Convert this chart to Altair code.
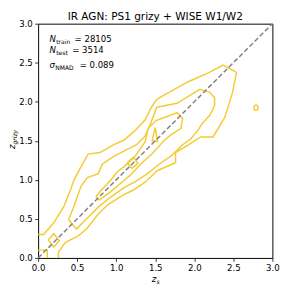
import altair as alt
import pandas as pd

GOLD = "#f5cb33"

# contour paths (z_s, z_grizy)
c1_x = [0.0, 0.07, 0.2, 0.33, 0.41, 0.46, 0.55, 0.64, 0.79, 0.97, 1.1, 1.24, 1.37, 1.45, 1.52, 1.64, 1.93, 2.18, 2.37, 2.54, 2.49, 2.39, 2.24, 2.08, 1.93, 1.76, 1.76, 1.53, 1.37, 1.22, 1.08, 0.89, 0.76, 0.62, 0.51, 0.35, 0.26, 0.26]
c1_y = [0.30, 0.30, 0.45, 0.66, 0.86, 1.0, 1.17, 1.33, 1.35, 1.45, 1.51, 1.63, 1.77, 1.93, 2.03, 2.10, 2.26, 2.37, 2.47, 2.375, 2.12, 1.80, 1.55, 1.55, 1.45, 1.35, 1.22, 1.12, 0.97, 0.87, 0.80, 0.68, 0.55, 0.37, 0.28, 0.20, 0.075, 0.0]

c2_x = [0.39, 0.45, 0.50, 0.55, 0.63, 0.77, 0.82, 0.97, 1.14, 1.26, 1.37, 1.44, 1.52, 1.78, 2.07, 2.2, 2.26, 2.26, 2.2, 2.1, 2.05, 1.95, 1.85, 1.72, 1.55, 1.4, 1.25, 1.1, 0.93, 0.78, 0.64, 0.49, 0.39]
c2_y = [0.49, 0.64, 0.78, 0.92, 1.03, 1.08, 1.2, 1.3, 1.39, 1.45, 1.56, 1.72, 1.93, 1.98, 2.16, 2.12, 2.05, 1.95, 1.83, 1.72, 1.64, 1.52, 1.45, 1.32, 1.2, 1.08, 0.98, 0.9, 0.78, 0.66, 0.52, 0.37, 0.49]

c3_x = [0.74, 0.80, 0.87, 0.95, 1.01, 1.1, 1.24, 1.37, 1.41, 1.51, 1.78, 1.85, 1.83, 1.7, 1.62, 1.52, 1.45, 1.33, 1.18, 1.05, 0.93, 0.78, 0.74]
c3_y = [0.78, 0.86, 0.93, 1.02, 1.1, 1.17, 1.30, 1.49, 1.66, 1.76, 1.86, 1.79, 1.66, 1.575, 1.51, 1.40, 1.325, 1.22, 1.06, 0.95, 0.85, 0.74, 0.78]

c4_x = [1.14, 1.22, 1.28, 1.2, 1.14]
c4_y = [1.22, 1.29, 1.21, 1.15, 1.22]

c5_x = [1.50, 1.46, 1.53, 1.50]
c5_y = [1.67, 1.50, 1.49, 1.67]

c6_x = [0.13, 0.2, 0.27, 0.2, 0.13]
c6_y = [0.23, 0.31, 0.22, 0.14, 0.23]

c7_x = [0.0, 0.117, 0.117]
c7_y = [0.10, 0.10, 0.0]

c8_x = [2.76, 2.77, 2.79, 2.81, 2.82, 2.81, 2.79, 2.77, 2.76]
c8_y = [1.925, 1.95, 1.96, 1.95, 1.925, 1.90, 1.89, 1.90, 1.925]

diag_x = [0.0, 3.0]
diag_y = [0.0, 3.0]

ticks = [0.0, 0.5, 1.0, 1.5, 2.0, 2.5, 3.0]

title = "IR AGN: PS1 grizy + WISE W1/W2"
n_train = "28105"
n_test = "3514"
sigma = "0.089"

paths = [(c1_x, c1_y), (c2_x, c2_y), (c3_x, c3_y), (c4_x, c4_y),
         (c5_x, c5_y), (c6_x, c6_y), (c7_x, c7_y), (c8_x, c8_y)]
rows = []
for cid, (xs, ys) in enumerate(paths):
    for i, (a, b) in enumerate(zip(xs, ys)):
        rows.append({"cid": cid, "order": i, "zs": a, "zp": b})
df = pd.DataFrame(rows)
ddf = pd.DataFrame({"zs": diag_x, "zp": diag_y})

FONT = "DejaVu Sans"
xs = alt.Scale(domain=[0, 3], nice=False, zero=False)
ys = alt.Scale(domain=[0, 3], nice=False, zero=False)
xax = alt.Axis(values=ticks, format=".1f", title=None, grid=False, domain=False,
               tickSize=3.5, tickColor="black", tickWidth=0.8, labelFontSize=8.8,
               labelFont=FONT, labelColor="black", labelPadding=2.5,
               labelFlush=False, labelOverlap=False)
yax = alt.Axis(values=ticks, format=".1f", title=None, grid=False, domain=False,
               tickSize=3.5, tickColor="black", tickWidth=0.8, labelFontSize=8.8,
               labelFont=FONT, labelColor="black", labelPadding=2.5,
               labelFlush=False, labelOverlap=False)

contours = alt.Chart(df).mark_line(color=GOLD, strokeWidth=1.5).encode(
    x=alt.X("zs:Q", scale=xs, axis=xax),
    y=alt.Y("zp:Q", scale=ys, axis=yax),
    detail="cid:N",
    order="order:Q",
)

diag = alt.Chart(ddf).mark_line(color="#808080", strokeWidth=1.5, strokeDash=[5, 2.5]).encode(
    x=alt.X("zs:Q", scale=xs), y=alt.Y("zp:Q", scale=ys)
)


def txt(s, x, y, size, italic=False, align="left", angle=0):
    return alt.Chart(alt.Data(values=[{}])).mark_text(
        text=s, font=FONT, fontSize=size, fontStyle="italic" if italic else "normal",
        align=align, baseline="alphabetic", angle=angle, color="black"
    ).encode(x=alt.value(x), y=alt.value(y))


M, S = 8.8, 6.2
texts = [
    txt(title, 120.5, -4, 10.8, align="center"),
    txt("N", 11.7, 18.5, M, italic=True), txt("train", 18.6, 20.5, S), txt("= " + n_train, 37.5, 18.5, M),
    txt("N", 11.7, 30, M, italic=True), txt("test", 18.6, 32, S), txt("= " + n_test, 35, 30, M),
    txt("σ", 11.7, 46, M, italic=True), txt("NMAD", 17.6, 48, S), txt("= " + sigma, 42.7, 46, M),
    txt("z", 117, 266, 9, italic=True), txt("s", 121.8, 268, 6.3, italic=True),
    txt("z", -23.5, 129, 9, italic=True, angle=270), txt("grizy", -21.5, 124.3, 6.2, italic=True, angle=270),
]

chart = alt.layer(contours, diag, *texts).properties(
    width=241, height=241,
    autosize=alt.AutoSizeParams(type="none"),
    padding={"left": 31, "top": 12, "right": 14, "bottom": 34},
).configure_view(stroke="black", strokeWidth=1)

chart.save("out.html", embed_options={"renderer": "svg", "actions": False})
